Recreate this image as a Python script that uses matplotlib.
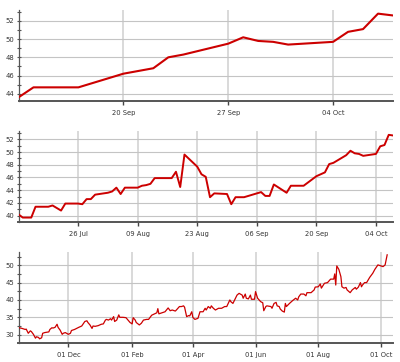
import matplotlib
matplotlib.use("Agg")
import matplotlib.pyplot as plt
import matplotlib.dates as mdates
from matplotlib.ticker import MultipleLocator
import pandas as pd

# ---------------- data ----------------
p1_dates = ["2010-09-13", "2010-09-14", "2010-09-15", "2010-09-16", "2010-09-17",
            "2010-09-20", "2010-09-21", "2010-09-22", "2010-09-23", "2010-09-24",
            "2010-09-27", "2010-09-28", "2010-09-29", "2010-09-30", "2010-10-01",
            "2010-10-04", "2010-10-05", "2010-10-06", "2010-10-07", "2010-10-08"]
p1_values = [43.6, 44.7, 44.7, 44.7, 44.7,
             46.2, 46.5, 46.8, 48.0, 48.3,
             49.5, 50.2, 49.8, 49.7, 49.4,
             49.7, 50.8, 51.1, 52.8, 52.6]
p1_ticks = ["2010-09-20", "2010-09-27", "2010-10-04"]

p2_dates = ["2010-07-12", "2010-07-13", "2010-07-14", "2010-07-15", "2010-07-16",
            "2010-07-19", "2010-07-20", "2010-07-22", "2010-07-23",
            "2010-07-26", "2010-07-27", "2010-07-28", "2010-07-29", "2010-07-30",
            "2010-08-02", "2010-08-03", "2010-08-04", "2010-08-05", "2010-08-06",
            "2010-08-09", "2010-08-10", "2010-08-11", "2010-08-12", "2010-08-13",
            "2010-08-16", "2010-08-17", "2010-08-18", "2010-08-19", "2010-08-20",
            "2010-08-23", "2010-08-24", "2010-08-25", "2010-08-26", "2010-08-27",
            "2010-08-30", "2010-08-31", "2010-09-01", "2010-09-02", "2010-09-03",
            "2010-09-07", "2010-09-08", "2010-09-09", "2010-09-10",
            "2010-09-13", "2010-09-14", "2010-09-15", "2010-09-16", "2010-09-17",
            "2010-09-20", "2010-09-21", "2010-09-22", "2010-09-23", "2010-09-24",
            "2010-09-27", "2010-09-28", "2010-09-29", "2010-09-30", "2010-10-01",
            "2010-10-04", "2010-10-05", "2010-10-06", "2010-10-07", "2010-10-08"]
p2_values = [40.2, 39.7, 39.7, 39.7, 41.4,
             41.4, 41.6, 40.8, 41.9,
             41.9, 41.8, 42.6, 42.6, 43.3,
             43.6, 43.8, 44.4, 43.4, 44.4,
             44.4, 44.7, 44.8, 45.0, 45.9,
             45.9, 45.9, 46.9, 44.5, 49.6,
             47.7, 46.5, 46.1, 42.9, 43.5,
             43.4, 41.8, 42.9, 42.9, 42.9,
             43.7, 43.1, 43.1, 44.9,
             43.6, 44.7, 44.7, 44.7, 44.7,
             46.2, 46.5, 46.8, 48.1, 48.3,
             49.5, 50.2, 49.8, 49.7, 49.4,
             49.7, 50.9, 51.1, 52.7, 52.6]
p2_ticks = ["2010-07-26", "2010-08-09", "2010-08-23", "2010-09-06", "2010-09-20", "2010-10-04"]

p3_dates = ["2009-10-13", "2009-10-17", "2009-10-20", "2009-10-21", "2009-10-23",
            "2009-10-25", "2009-10-26", "2009-10-28", "2009-10-30", "2009-10-31",
            "2009-11-02", "2009-11-03", "2009-11-05", "2009-11-06", "2009-11-08",
            "2009-11-12", "2009-11-13", "2009-11-15", "2009-11-16", "2009-11-18",
            "2009-11-20", "2009-11-21", "2009-11-23", "2009-11-25", "2009-11-26",
            "2009-11-28", "2009-12-01", "2009-12-03", "2009-12-04", "2009-12-07",
            "2009-12-11", "2009-12-14", "2009-12-17", "2009-12-19", "2009-12-20",
            "2009-12-22", "2009-12-24", "2009-12-25", "2009-12-27", "2009-12-30",
            "2010-01-02", "2010-01-04", "2010-01-06", "2010-01-07", "2010-01-09",
            "2010-01-11", "2010-01-12", "2010-01-14", "2010-01-15", "2010-01-17",
            "2010-01-19", "2010-01-20", "2010-01-23", "2010-01-26", "2010-01-28",
            "2010-01-30", "2010-02-01", "2010-02-02", "2010-02-04", "2010-02-05",
            "2010-02-08", "2010-02-10", "2010-02-12", "2010-02-15", "2010-02-17",
            "2010-02-20", "2010-02-23", "2010-02-25", "2010-02-26", "2010-02-27",
            "2010-03-02", "2010-03-05", "2010-03-08", "2010-03-10", "2010-03-12",
            "2010-03-15", "2010-03-16", "2010-03-19", "2010-03-21", "2010-03-23",
            "2010-03-24", "2010-03-26", "2010-03-28", "2010-03-29", "2010-03-31",
            "2010-04-01", "2010-04-03", "2010-04-05", "2010-04-06", "2010-04-08",
            "2010-04-11", "2010-04-13", "2010-04-14", "2010-04-16", "2010-04-18",
            "2010-04-19", "2010-04-21", "2010-04-23", "2010-04-26", "2010-04-29",
            "2010-05-02", "2010-05-04", "2010-05-07", "2010-05-08", "2010-05-10",
            "2010-05-14", "2010-05-16", "2010-05-19", "2010-05-20", "2010-05-22",
            "2010-05-23", "2010-05-25", "2010-05-27", "2010-05-28", "2010-05-31",
            "2010-06-01", "2010-06-03", "2010-06-06", "2010-06-08", "2010-06-09",
            "2010-06-11", "2010-06-12", "2010-06-16", "2010-06-17", "2010-06-19",
            "2010-06-21", "2010-06-22", "2010-06-24", "2010-06-25", "2010-06-27",
            "2010-06-29", "2010-06-30", "2010-07-01", "2010-07-04", "2010-07-07",
            "2010-07-10", "2010-07-12", "2010-07-13", "2010-07-15", "2010-07-18",
            "2010-07-20", "2010-07-21", "2010-07-25", "2010-07-28", "2010-07-29",
            "2010-08-01", "2010-08-03", "2010-08-04", "2010-08-07", "2010-08-10",
            "2010-08-13", "2010-08-16", "2010-08-17", "2010-08-18", "2010-08-19",
            "2010-08-21", "2010-08-23", "2010-08-24", "2010-08-26", "2010-08-28",
            "2010-08-29", "2010-09-01", "2010-09-03", "2010-09-06", "2010-09-07",
            "2010-09-09", "2010-09-11", "2010-09-12", "2010-09-13", "2010-09-15",
            "2010-09-17", "2010-09-20", "2010-09-23", "2010-09-25", "2010-09-28",
            "2010-10-01", "2010-10-03", "2010-10-05", "2010-10-06", "2010-10-07"]
p3_values = [32.1, 31.8, 31.5, 31.6, 30.4,
             31.1, 30.9, 30.1, 29.0, 29.4,
             29.2, 28.8, 29.1, 30.4, 30.6,
             30.8, 31.5, 32.0, 31.9, 32.1,
             33.0, 32.1, 31.3, 30.1, 30.4,
             30.6, 30.1, 30.4, 31.2, 31.5,
             32.1, 32.5, 33.8, 34.0, 33.5,
             32.8, 31.8, 32.5, 32.4, 32.6,
             33.0, 33.1, 34.2, 34.4, 34.2,
             34.6, 34.2, 35.2, 33.8, 34.2,
             35.7, 35.0, 35.0, 34.9, 34.2,
             33.5, 33.1, 34.9, 34.2, 33.5,
             32.8, 33.3, 34.2, 34.4, 34.4,
             35.6, 36.0, 36.3, 37.5, 36.0,
             36.3, 36.6, 37.7, 36.9, 37.1,
             36.8, 37.1, 38.1, 38.1, 38.3,
             37.9, 35.2, 35.5, 35.4, 36.6,
             35.0, 34.4, 34.6, 34.7, 36.6,
             36.6, 37.6, 37.1, 38.1, 37.6,
             38.3, 37.6, 37.1, 37.6, 37.6,
             38.1, 38.1, 40.0, 39.5, 39.0,
             41.4, 41.9, 41.4, 40.5, 41.7,
             40.5, 40.3, 41.4, 40.2, 40.2,
             42.4, 40.5, 39.5, 39.2, 36.9,
             38.1, 38.3, 38.1, 37.6, 39.0,
             39.3, 38.3, 38.1, 37.4, 36.8,
             36.5, 39.0, 38.1, 39.0, 39.8,
             40.5, 40.0, 40.9, 41.7, 41.7,
             41.2, 42.1, 42.1, 42.9, 43.7,
             43.8, 44.6, 43.4, 44.8, 45.0,
             46.0, 46.0, 47.5, 44.3, 49.8,
             48.8, 46.7, 43.8, 43.4, 43.6,
             42.9, 42.1, 42.9, 43.6, 43.1,
             43.7, 45.0, 43.8, 44.3, 45.0,
             45.0, 46.5, 47.7, 48.8, 50.1,
             49.8, 49.6, 50.1, 51.5, 53.0]
p3_ticks = ["2009-12-01", "2010-02-01", "2010-04-01", "2010-06-01", "2010-08-01", "2010-10-01"]

# ---------------- drawing ----------------
W, H = 400, 362
fig = plt.figure(figsize=(W / 100, H / 100), dpi=100)
fig.patch.set_facecolor("white")

LEFT, RIGHT = 18.5, 393.0


def make_axes(top, bottom):
    return fig.add_axes([LEFT / W, 1 - bottom / H, (RIGHT - LEFT) / W, (bottom - top) / H])


def style(ax, dates, values, ticks, xlim, ylim, major, minor, lw):
    d = pd.to_datetime(dates)
    ax.plot(d, values, color="#cc0000", lw=lw, solid_joinstyle="round", zorder=3)
    ax.set_xlim(pd.Timestamp(xlim[0]), pd.Timestamp(xlim[1]))
    ax.set_ylim(*ylim)
    ax.set_xticks(pd.to_datetime(ticks))
    ax.xaxis.set_major_formatter(mdates.DateFormatter("%d %b"))
    ax.yaxis.set_major_locator(MultipleLocator(major))
    ax.yaxis.set_minor_locator(MultipleLocator(minor))
    for s in ("top", "right"):
        ax.spines[s].set_visible(False)
    ax.spines["left"].set_color("#555555")
    ax.spines["left"].set_linewidth(0.9)
    ax.spines["bottom"].set_color("#555555")
    ax.spines["bottom"].set_linewidth(1.4)
    ax.tick_params(axis="y", which="both", direction="inout", length=3.5, width=0.8,
                   color="#555555", labelsize=4.9, labelcolor="#333333", pad=1.5)
    ax.tick_params(axis="x", which="major", direction="out", length=3, width=1.0,
                   color="#444444", labelsize=4.9, labelcolor="#333333", pad=3.5)
    ax.grid(axis="y", which="major", color="#c4c4c4", lw=0.8)
    ax.grid(axis="x", which="major", color="#d0d0d0", lw=1.1)
    ax.set_axisbelow(True)


ax1 = make_axes(10, 101)
style(ax1, p1_dates, p1_values, p1_ticks, ("2010-09-13", "2010-10-08"),
      (43.2, 53.2), 2, 1, 1.5)

ax2 = make_axes(130.7, 221.7)
style(ax2, p2_dates, p2_values, p2_ticks, ("2010-07-12", "2010-10-08"),
      (39.05, 53.35), 2, 1, 1.4)

ax3 = make_axes(251.7, 343)
style(ax3, p3_dates, p3_values, p3_ticks, ("2009-10-13 12:00", "2010-10-12 16:00"),
      (27.6, 53.9), 5, 2.5, 0.9)

fig.savefig("out.png", dpi=100, facecolor="white")
